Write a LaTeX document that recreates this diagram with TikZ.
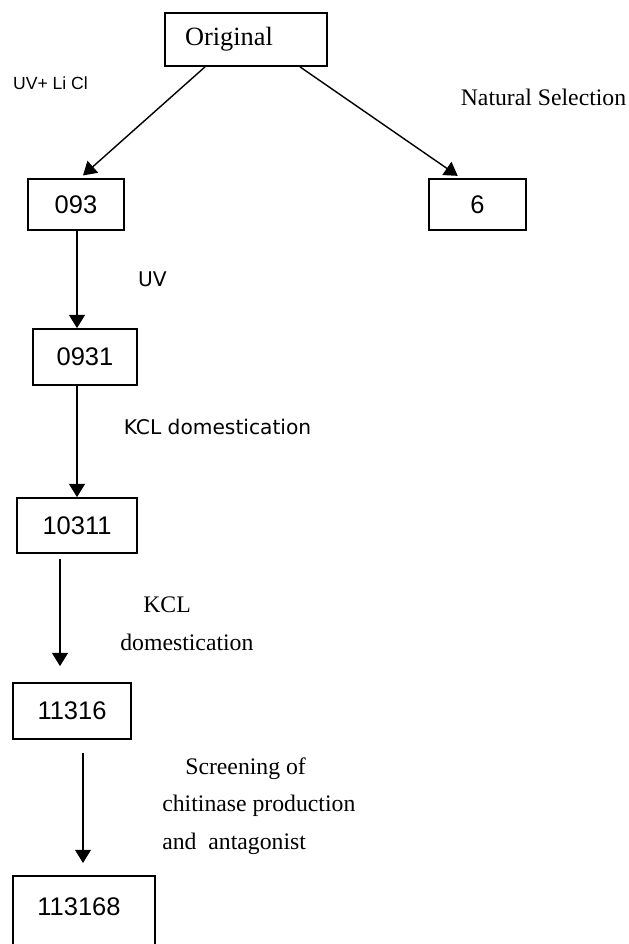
\documentclass[tikz,border=0pt]{standalone}
\usepackage{fontspec}
\setmainfont{Liberation Serif}
\newfontfamily\digitfont{Liberation Sans}
\newfontfamily\widesans{DejaVu Sans}
\usetikzlibrary{arrows.meta}

\begin{document}
\begin{tikzpicture}[x=0.02cm, y=-0.02cm,
    strain/.style={draw, line width=1pt, inner sep=0pt,
        font=\digitfont\fontsize{14.5}{17}\selectfont},
    flow/.style={-{Triangle[length=7.5pt,width=9pt]}, line width=0.8pt},
    note/.style={inner sep=0pt, font=\fontsize{13.5}{21.5}\selectfont, align=left}]
    \useasboundingbox (0,0) rectangle (629,944);
    % strains
    \node (orig) at (246, 39.5) [strain, minimum width=3.24cm, minimum height=1.06cm, text width=2.44cm, inner xsep=0.4cm, align=left, font=\fontsize{15}{18}\selectfont] {Original};
    \node (n093) at (76, 204.5) [strain, minimum width=1.92cm, minimum height=1.02cm] {093};
    \node (n6) at (477.5, 204.5) [strain, minimum width=1.94cm, minimum height=1.02cm] {6};
    \node (n0931) at (85, 357) [strain, minimum width=2.08cm, minimum height=1.12cm] {0931};
    \node (n10311) at (77, 525.5) [strain, minimum width=2.4cm, minimum height=1.1cm] {10311};
    \node (n11316) at (72, 711) [strain, minimum width=2.36cm, minimum height=1.12cm] {11316};
    \node (n113168) at (84, 875) [strain, anchor=north, minimum width=2.84cm, minimum height=2cm] {};
    \node (n113168txt) at (79, 907) [font=\digitfont\fontsize{14.5}{17}\selectfont] {113168};
    % labels
    \node (uvlicl) at (50.5, 83) [font=\digitfont\fontsize{10}{12}\selectfont] {UV+ Li Cl};
    \node (natsel) at (543.5, 97) [font=\fontsize{13.5}{16}\selectfont] {Natural Selection};
    \node (uv) at (152.5, 279) [font=\widesans\fontsize{11.5}{14}\selectfont] {UV};
    \node (kcldom) at (217.5, 427) [font=\widesans\fontsize{11.5}{14}\selectfont] {KCL domestication};
    \node (kcldom2) at (120, 624) [note, anchor=west] {\hspace{0.46cm}KCL\\domestication};
    \node (screen) at (162, 806) [note, anchor=west] {\hspace{0.46cm}Screening of\\chitinase production\\and\ \ antagonist};
    % arrows
    \draw[flow, shorten >=0.08cm] ([xshift=-0.82cm]orig.south) -- ([xshift=0.08cm]n093.north);
    \draw[flow, shorten >=0.08cm] ([xshift=1.08cm]orig.south) -- ([xshift=-0.33cm]n6.north);
    \draw[flow] ([xshift=0.02cm]n093.south) -- ([xshift=0.02cm]n093.south |- n0931.north);
    \draw[flow] (n0931.south -| n10311.north) -- (n10311.north);
    \draw[flow, shorten <=0.1cm, shorten >=0.32cm] ([xshift=-0.34cm]n10311.south) -- ([xshift=-0.34cm]n10311.south |- n11316.north);
    \draw[flow, shorten <=0.26cm, shorten >=0.24cm] ([xshift=0.22cm]n11316.south) -- ([xshift=0.22cm]n11316.south |- n113168.north);
\end{tikzpicture}
\end{document}
